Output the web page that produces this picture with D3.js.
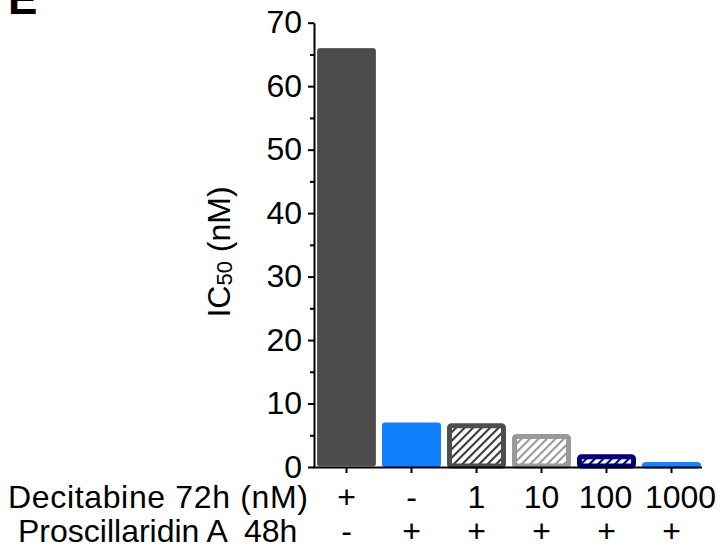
<!DOCTYPE html>
<html>
<head>
<meta charset="utf-8">
<script src="https://cdn.jsdelivr.net/npm/d3@7"></script>
<style>
  html, body { margin: 0; padding: 0; background: #fff; }
  svg { display: block; font-family: "Liberation Sans", Arial, sans-serif; }
  text { white-space: pre; }
</style>
</head>
<body>
<svg id="chart" width="720" height="548"></svg>
<script>
// Treatment conditions (one bar each)
const decitabine = ["+", "-", "1", "10", "100", "1000"];
const proscillaridin = ["-", "+", "+", "+", "+", "+"];
const ic50 = [66, 7.0, 6.9, 5.2, 2.0, 0.8];
const yTicks = [0, 10, 20, 30, 40, 50, 60, 70];
const yMinorTicks = [5, 15, 25, 35, 45, 55, 65];
const rowLabels = ["Decitabine 72h (nM)", "Proscillaridin A  48h"];

const conditions = decitabine.map((d, i) => d + "/" + proscillaridin[i]);

// Bar appearance per condition
const barStyles = [
  { fill: "#4b4b4b", stroke: "#5e5e5e", sw: 1, hatch: null },
  { fill: "#127fff", stroke: "#127fff", sw: 2, hatch: null },
  { fill: "#ffffff", stroke: "#4e4e4e", sw: 5, hatch: "#3a3a3a" },
  { fill: "#ffffff", stroke: "#9a9a9a", sw: 5, hatch: "#9a9a9a" },
  { fill: "#ffffff", stroke: "#00007a", sw: 5, hatch: "#00007a" },
  { fill: "#ffffff", stroke: "#1a80ff", sw: 5, hatch: "#7a8aa0" }
];

const svg = d3.select("#chart");
const x0 = 314, x1 = 704, yBase = 467, yTop = 22.7;

const x = d3.scaleBand()
  .domain(conditions)
  .range([x0, x1])
  .paddingInner(0.092)
  .paddingOuter(0.046);

const y = d3.scaleLinear().domain([0, 70]).range([yBase, yTop]);

// Hatch patterns
const defs = svg.append("defs");
barStyles.forEach((s, i) => {
  if (!s.hatch) return;
  const p = defs.append("pattern")
    .attr("id", "hatch" + i)
    .attr("patternUnits", "userSpaceOnUse")
    .attr("width", 6).attr("height", 6)
    .attr("patternTransform", "rotate(45)");
  p.append("rect").attr("width", 6).attr("height", 6).attr("fill", s.fill);
  p.append("line")
    .attr("x1", 0).attr("y1", 0).attr("x2", 0).attr("y2", 6)
    .attr("stroke", s.hatch).attr("stroke-width", 4.2);
});

// Bars (stroke kept inside the value's outline)
svg.append("g").selectAll("rect")
  .data(ic50)
  .join("rect")
  .attr("x", (d, i) => x(conditions[i]) + barStyles[i].sw / 2)
  .attr("y", (d, i) => y(d) + barStyles[i].sw / 2)
  .attr("width", (d, i) => x.bandwidth() - barStyles[i].sw)
  .attr("height", (d, i) => Math.max(0, yBase - y(d) - barStyles[i].sw / 2 - 1))
  .attr("rx", 2)
  .attr("fill", (d, i) => barStyles[i].hatch ? `url(#hatch${i})` : barStyles[i].fill)
  .attr("stroke", (d, i) => barStyles[i].stroke)
  .attr("stroke-width", (d, i) => barStyles[i].sw)
  .attr("stroke-linejoin", "round");

// Y axis
const yAxis = svg.append("g")
  .attr("transform", `translate(${x0},0)`)
  .call(d3.axisLeft(y).tickValues(yTicks).tickSize(6).tickSizeOuter(0).tickPadding(6));
yAxis.select(".domain").attr("stroke", "#000").attr("stroke-width", 2);
yAxis.selectAll(".tick line").attr("stroke", "#000").attr("stroke-width", 2);
yAxis.selectAll(".tick text")
  .attr("font-size", 32).attr("fill", "#000")
  .attr("font-family", "'Liberation Sans', Arial, sans-serif");

const yMinor = svg.append("g")
  .attr("transform", `translate(${x0},0)`)
  .call(d3.axisLeft(y).tickValues(yMinorTicks).tickSize(4).tickSizeOuter(0).tickFormat(""));
yMinor.select(".domain").remove();
yMinor.selectAll(".tick line").attr("stroke", "#000").attr("stroke-width", 2);

// X axis (ticks only)
const xAxis = svg.append("g")
  .attr("transform", `translate(0,${yBase})`)
  .call(d3.axisBottom(x).tickSize(6).tickSizeOuter(0).tickFormat(""));
xAxis.select(".domain").attr("stroke", "#000").attr("stroke-width", 2)
  .attr("d", `M${x0 - 1},0.5H${x1 - 2}`);
xAxis.selectAll(".tick line").attr("stroke", "#000").attr("stroke-width", 2);

// Y title
const yTitle = svg.append("text")
  .attr("transform", "translate(230,252) rotate(-90)")
  .attr("text-anchor", "middle")
  .attr("font-size", 32)
  .attr("fill", "#000");
yTitle.append("tspan").text("IC");
yTitle.append("tspan").attr("font-size", 22).attr("dy", 2).text("50");
yTitle.append("tspan").attr("dy", -2).text(" (nM)");

// Treatment rows
const rowY = [508, 542];
const rowX = [8, 18];
const rowWidth = [300, null];
const rowValues = [decitabine, proscillaridin];
const valueShift = [[0, 0, 0, 0, -1, 9], [0, 0, 0, 0, 0, 0]];
rowLabels.forEach((lab, r) => {
  const t = svg.append("text")
    .attr("x", rowX[r]).attr("y", rowY[r])
    .attr("font-size", 32).attr("fill", "#000")
    .text(lab);
  if (rowWidth[r]) t.attr("textLength", rowWidth[r]).attr("lengthAdjust", "spacing");
  svg.append("g").selectAll("text")
    .data(rowValues[r])
    .join("text")
    .attr("x", (d, i) => x(conditions[i]) + x.bandwidth() / 2 + valueShift[r][i])
    .attr("y", rowY[r])
    .attr("text-anchor", "middle")
    .attr("font-size", 32).attr("fill", "#000")
    .text(d => d);
});

// Panel letter
svg.append("text")
  .attr("x", 8).attr("y", 14)
  .attr("font-size", 44).attr("font-weight", "bold").attr("fill", "#000")
  .text("E");
</script>
</body>
</html>
